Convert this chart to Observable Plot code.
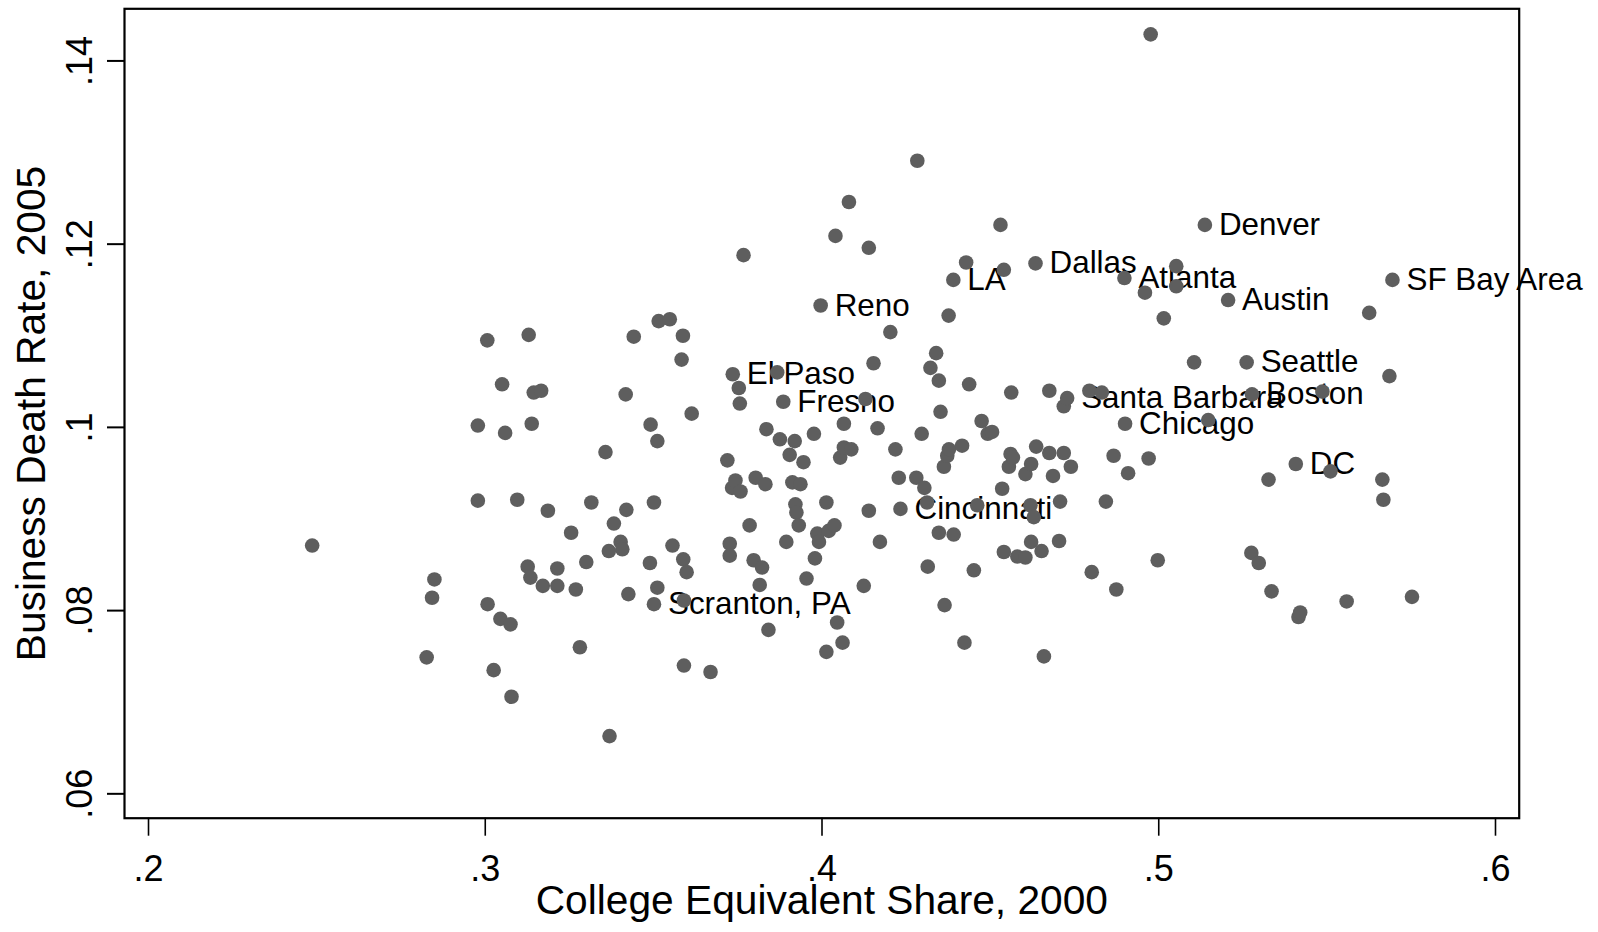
<!DOCTYPE html>
<html>
<head>
<meta charset="utf-8">
<script src="https://cdn.jsdelivr.net/npm/d3@7"></script>
<script src="https://cdn.jsdelivr.net/npm/@observablehq/plot@0.6"></script>
<style>
  html, body { margin: 0; padding: 0; background: #fff; }
  svg { display: block; }
</style>
</head>
<body>
<div id="chart"></div>
<script>
// College equivalent share, 2000 (x) and business death rate, 2005 (y) — unlabeled metros
const share = [
  .2486,.2826,.2842,.2849,.2978,.2978,.3006,.3007,.3025,.3045,.3050,.3059,.3075,.3078,.3095,.3126,.3129,.3134,.3138,.3144,
  .3166,.3171,.3186,.3214,.3214,.3255,.3269,.3281,.3300,.3315,.3357,.3367,.3369,.3382,.3402,.3407,.3417,.3419,.3425,.3441,
  .3489,.3491,.3501,.3511,.3511,.3515,.3548,.3556,.3583,.3587,.3588,.3590,.3590,.3598,.3613,.3669,.3719,.3726,.3726,.3733,
  .3743,.3753,.3756,.3758,.3767,.3785,.3797,.3803,.3815,.3822,.3832,.3835,.3841,.3867,.3875,.3894,.3904,.3912,.3919,.3921,
  .3924,.3931,.3936,.3945,.3954,.3976,.3979,.3986,.3991,.4013,.4013,.4020,.4037,.4040,.4045,.4054,.4061,.4065,.4065,.4080,
  .4087,.4124,.4129,.4139,.4139,.4153,.4165,.4172,.4203,.4218,.4228,.4280,.4283,.4296,.4304,.4312,.4314,.4322,.4339,.4347,
  .4347,.4352,.4362,.4364,.4372,.4376,.4377,.4391,.4416,.4423,.4428,.4437,.4451,.4461,.4474,.4492,.4505,.4530,.4535,.4540,
  .4540,.4555,.4560,.4562,.4567,.4580,.4604,.4604,.4619,.4621,.4621,.4629,.4636,.4652,.4659,.4675,.4675,.4686,.4704,.4707,
  .4718,.4718,.4739,.4794,.4801,.4831,.4843,.4866,.4874,.4909,.4959,.4970,.4976,.4997,.5015,.5052,.5052,.5105,.5147,.5275,
  .5297,.5326,.5335,.5415,.5420,.5486,.5510,.5558,.5625,.5664,.5667,.5685,.5752
];
const deathRate = [
  .0871,.0749,.0814,.0834,.1002,.0920,.1095,.0807,.0735,.0791,.1047,.0994,.0785,.0706,.0921,.0848,.1101,.0836,.1004,.1038,
  .1040,.0827,.0909,.0846,.0827,.0885,.0823,.0760,.0853,.0918,.0973,.0865,.0663,.0895,.0875,.0867,.1036,.0910,.0818,.1099,
  .0852,.1003,.0918,.0985,.0825,.1116,.1118,.0871,.1074,.1100,.0856,.0811,.0740,.0842,.1015,.0733,.0964,.0873,.0860,.0934,
  .0942,.1043,.1026,.0930,.1188,.0893,.0855,.0945,.0828,.0847,.0938,.0998,.0779,.1060,.0987,.0875,.0970,.0940,.0985,.0916,
  .0907,.0893,.0938,.0962,.0835,.0993,.0857,.0884,.0875,.0918,.0755,.0887,.0893,.1209,.0787,.0967,.0765,.1004,.0978,.1246,
  .0976,.0827,.1031,.1196,.0909,.1070,.0999,.0875,.1104,.0976,.0945,.0945,.1291,.0993,.0934,.0918,.0848,.1065,.1081,.1051,
  .0885,.1017,.0957,.0806,.0969,.1122,.0976,.0883,.0980,.0765,.1180,.1047,.0844,.0915,.1007,.0993,.0995,.1221,.0933,.1172,
  .0864,.0957,.0971,.1038,.0967,.0859,.0949,.0858,.0915,.0960,.0875,.0902,.0979,.0865,.0750,.1040,.0972,.0947,.0876,.0919,
  .1023,.0972,.0957,.1040,.0842,.1038,.0919,.0969,.0823,.0950,.1147,.0966,.1429,.0855,.1119,.1176,.1154,.1071,.1008,.0863,
  .0852,.0943,.0821,.0793,.0798,.1039,.0952,.0810,.1125,.0943,.0921,.1056,.0815
];

// Labeled metros
const cityNames = ["LA","Reno","Dallas","Denver","Atlanta","Austin","SF Bay Area","El Paso","Fresno","Seattle",
                   "Santa Barbara","Boston","Chicago","DC","Cincinnati","Scranton, PA"];
const cityShare = [.4390,.3996,.4634,.5137,.4898,.5206,.5694,.3735,.3885,.5261,.4728,.5277,.4900,.5407,.4233,.3501];
const cityRate  = [.1161,.1133,.1179,.1221,.1163,.1139,.1161,.1058,.1028,.1071,.1032,.1036,.1004,.0960,.0911,.0807];

// Axis ticks and titles
const xTicks = [0.2, 0.3, 0.4, 0.5, 0.6];
const yTicks = [0.06, 0.08, 0.10, 0.12, 0.14];
const xTitle = "College Equivalent Share, 2000";
const yTitle = "Business Death Rate, 2005";
const xDomain = [0.19287, 0.60704];
const yDomain = [0.05734, 0.14569];

const points = share.map((x, i) => ({x, y: deathRate[i]}));
const cities = cityNames.map((name, i) => ({name, x: cityShare[i], y: cityRate[i]}));
const allPoints = points.concat(cities);

const fmt = d => String(+d.toFixed(2)).replace(/^0/, "");
const FONT = "'Liberation Sans', Arial, Helvetica, sans-serif";
const DOT = "#5e5e5e";

const chart = Plot.plot({
  width: 1598,
  height: 932,
  marginLeft: 124,
  marginRight: 79.3,
  marginTop: 8.3,
  marginBottom: 114.3,
  style: {fontFamily: FONT, fontSize: "36px", color: "#000", background: "#fff", overflow: "visible"},
  x: {domain: xDomain},
  y: {domain: yDomain},
  marks: [
    Plot.axisX({ticks: xTicks, tickSize: 18, tickPadding: 19, tickFormat: fmt, label: null,
                stroke: "#000", strokeWidth: 1.6, fill: "#000"}),
    Plot.axisY({ticks: yTicks, tickSize: 17, tickFormat: () => "", label: null,
                stroke: "#000", strokeWidth: 2}),
    Plot.text(yTicks, {y: d => d, text: d => fmt(d), frameAnchor: "left", dx: -32.3,
                       rotate: -90, textAnchor: "middle", lineAnchor: "bottom", fontSize: 36, fill: "#000"}),
    Plot.text([xTitle], {text: d => d, frameAnchor: "bottom", dy: 96, lineAnchor: "bottom",
                         textAnchor: "middle", fontSize: 40.7, fill: "#000"}),
    Plot.text([yTitle], {text: d => d, frameAnchor: "left", dx: -80, rotate: -90,
                         lineAnchor: "bottom", textAnchor: "middle", fontSize: 40.7, fill: "#000"}),
    Plot.text(cities, {x: "x", y: "y", text: "name", textAnchor: "start", dx: 14, fontSize: 31.4, fill: "#000"}),
    Plot.dot(allPoints, {x: "x", y: "y", r: 7.3, fill: DOT, stroke: null}),
    Plot.frame({stroke: "#000", strokeWidth: 2.2})
  ]
});
document.getElementById("chart").appendChild(chart);
</script>
</body>
</html>
